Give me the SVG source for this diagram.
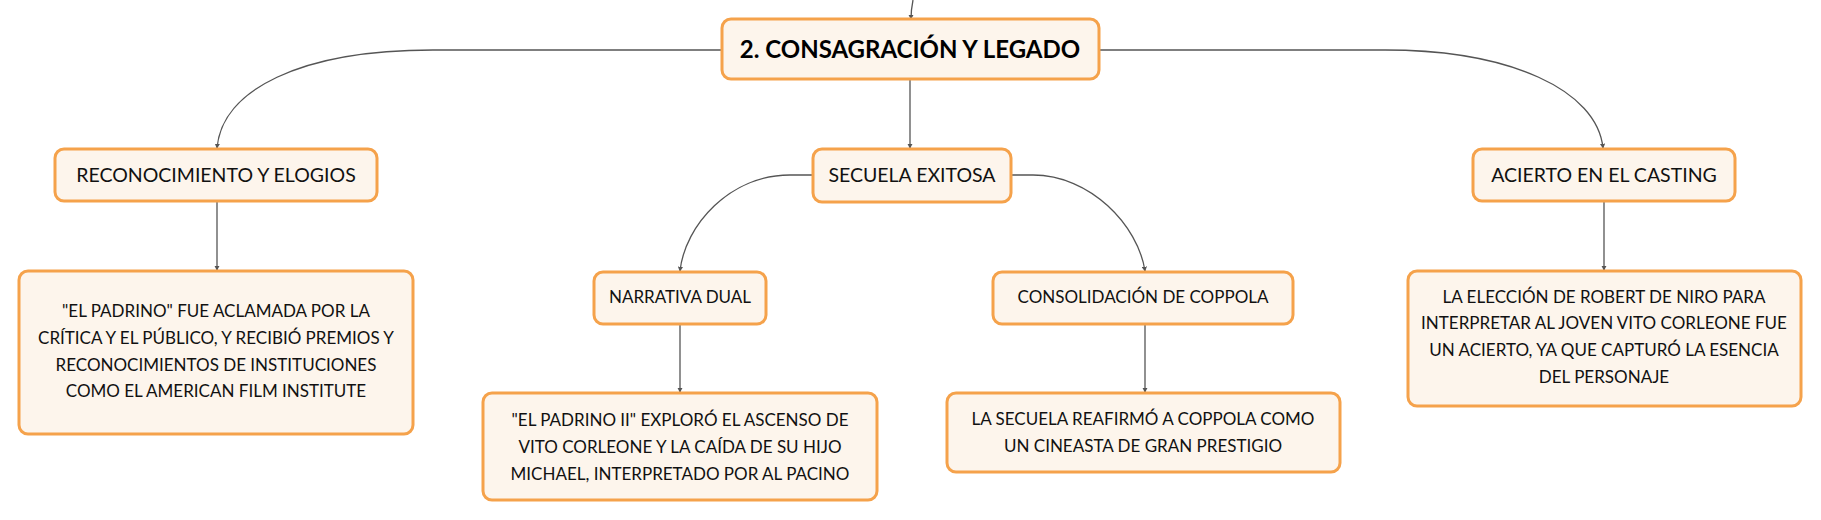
<svg xmlns="http://www.w3.org/2000/svg" width="1821" height="520" viewBox="0 0 1821 520">
<defs>
<style>
.box{fill:#FDF5EC;stroke:#F5A24B;stroke-width:3}
.t{font-family:Lato,"Liberation Sans",sans-serif;font-size:19.5px;fill:#111;text-anchor:middle}
.s{font-family:Lato,"Liberation Sans",sans-serif;font-size:17px;fill:#111;text-anchor:middle}
.h{font-family:Lato,"Liberation Sans",sans-serif;font-size:24px;font-weight:bold;fill:#000;text-anchor:middle}
.c{fill:none;stroke:#555;stroke-width:1.3}
</style>
<marker id="a" viewBox="0 0 6 6" refX="5" refY="3" markerWidth="4" markerHeight="4" orient="auto">
<path d="M0,0 L6,3 L0,6 z" fill="#555"/>
</marker>
</defs>
<rect width="1821" height="520" fill="#fff"/>
<g id="connectors">
<path class="c" d="M913,0 Q911,10 911,19" marker-end="url(#a)"/>
<path class="c" d="M722,50 L433,50 C300,50 222,90 217,148" marker-end="url(#a)"/>
<path class="c" d="M1099,50 L1385,50 C1510,50 1597,90 1603,148" marker-end="url(#a)"/>
<path class="c" d="M910,80 L910,148" marker-end="url(#a)"/>
<path class="c" d="M813,175 L790,175 C730,175 685,225 680,271" marker-end="url(#a)"/>
<path class="c" d="M1011,175 L1033,175 C1090,175 1138,225 1145,271" marker-end="url(#a)"/>
<path class="c" d="M217,202 L217,270" marker-end="url(#a)"/>
<path class="c" d="M680,325 L680,392" marker-end="url(#a)"/>
<path class="c" d="M1145,325 L1145,392" marker-end="url(#a)"/>
<path class="c" d="M1604,202 L1604,270" marker-end="url(#a)"/>
</g>
<g id="main">
<rect class="box" x="722" y="19" width="377" height="60" rx="9"/>
<text class="h" x="910" y="58">2. CONSAGRACIÓN Y LEGADO</text>
</g>
<g id="reconocimiento">
<rect class="box" x="55" y="149" width="322" height="52" rx="9"/>
<text class="t" x="216" y="182">RECONOCIMIENTO Y ELOGIOS</text>
</g>
<g id="reconocimiento-detalle">
<rect class="box" x="19" y="271" width="394" height="163" rx="9"/>
<text class="s" x="216" y="317">"EL PADRINO" FUE ACLAMADA POR LA</text>
<text class="s" x="216" y="344">CRÍTICA Y EL PÚBLICO, Y RECIBIÓ PREMIOS Y</text>
<text class="s" x="216" y="371">RECONOCIMIENTOS DE INSTITUCIONES</text>
<text class="s" x="216" y="397">COMO EL AMERICAN FILM INSTITUTE</text>
</g>
<g id="secuela">
<rect class="box" x="813" y="149" width="198" height="53" rx="9"/>
<text class="t" x="912" y="182">SECUELA EXITOSA</text>
</g>
<g id="narrativa">
<rect class="box" x="594" y="272" width="172" height="52" rx="9"/>
<text class="s" x="680" y="303">NARRATIVA DUAL</text>
</g>
<g id="narrativa-detalle">
<rect class="box" x="483" y="393" width="394" height="107" rx="9"/>
<text class="s" x="680" y="426">"EL PADRINO II" EXPLORÓ EL ASCENSO DE</text>
<text class="s" x="680" y="453">VITO CORLEONE Y LA CAÍDA DE SU HIJO</text>
<text class="s" x="680" y="480">MICHAEL, INTERPRETADO POR AL PACINO</text>
</g>
<g id="coppola">
<rect class="box" x="993" y="272" width="300" height="52" rx="9"/>
<text class="s" x="1143" y="303">CONSOLIDACIÓN DE COPPOLA</text>
</g>
<g id="coppola-detalle">
<rect class="box" x="947" y="393" width="393" height="79" rx="9"/>
<text class="s" x="1143" y="425">LA SECUELA REAFIRMÓ A COPPOLA COMO</text>
<text class="s" x="1143" y="452">UN CINEASTA DE GRAN PRESTIGIO</text>
</g>
<g id="acierto">
<rect class="box" x="1473" y="149" width="262" height="52" rx="9"/>
<text class="t" x="1604" y="182">ACIERTO EN EL CASTING</text>
</g>
<g id="acierto-detalle">
<rect class="box" x="1408" y="271" width="393" height="135" rx="9"/>
<text class="s" x="1604" y="303">LA ELECCIÓN DE ROBERT DE NIRO PARA</text>
<text class="s" x="1604" y="329">INTERPRETAR AL JOVEN VITO CORLEONE FUE</text>
<text class="s" x="1604" y="356">UN ACIERTO, YA QUE CAPTURÓ LA ESENCIA</text>
<text class="s" x="1604" y="383">DEL PERSONAJE</text>
</g>
</svg>
